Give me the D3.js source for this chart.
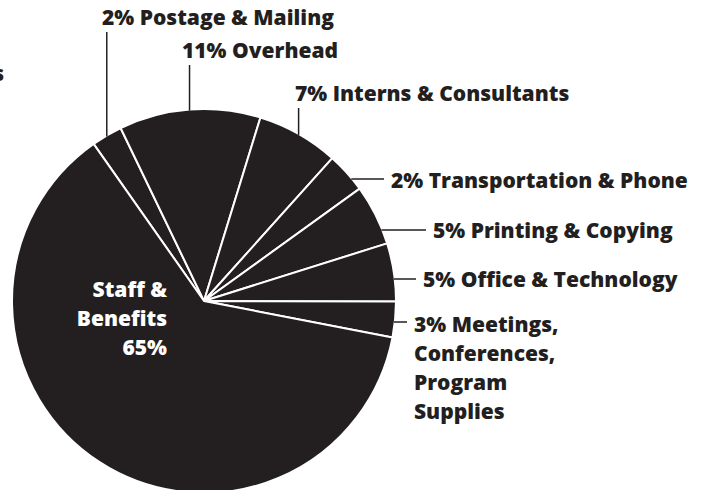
<!DOCTYPE html>
<meta charset="utf-8">
<style>

body {
  margin: 0;
  background: #fff;
}

text {
  font-family: "Open Sans", Lato, sans-serif;
  font-weight: 800;
  font-size: 21px;
}

</style>
<body>
<script src="https://d3js.org/d3.v7.js"></script>
<script>

// slices in drawing order, clockwise from the Postage slice
var categories = ["Postage & Mailing", "Overhead", "Interns & Consultants",
  "Transportation & Phone", "Printing & Copying", "Office & Technology",
  "Meetings, Conferences, Program Supplies", "Staff & Benefits"];

// percentages as printed on the labels
var printed = [2, 11, 7, 2, 5, 5, 3, 65];

// share of the circle each wedge actually takes in the picture (%)
var drawnShare = [2.6, 11.9, 6.9, 3.4, 5.1, 4.9, 3.0, 62.2];

// label lines as printed
var labelLines = [
  ["2% Postage & Mailing"],
  ["11% Overhead"],
  ["7% Interns & Consultants"],
  ["2% Transportation & Phone"],
  ["5% Printing & Copying"],
  ["5% Office & Technology"],
  ["3% Meetings,", "Conferences,", "Program", "Supplies"],
  ["Staff &", "Benefits", "65%"]
];

var width = 710,
    height = 490;

var cx = 204, cy = 301, radius = 192;
var ink = "#231f20";

// where each label sits (layout only)
var layout = [
  {kind: "v", x: 102, y: 25},
  {kind: "v", x: 182, y: 58},
  {kind: "v", x: 295, y: 101},
  {kind: "h", x: 391, y: 188, ly: 179},
  {kind: "h", x: 433, y: 238, ly: 230},
  {kind: "h", x: 423, y: 287, ly: 279},
  {kind: "h", x: 414, y: 332, ly: 322},
  {kind: "in", x: 167, y: 297}
];

var lineStep = 29;

var svg = d3.select("body").append("svg")
    .attr("width", width)
    .attr("height", height);

var g = svg.append("g")
    .attr("transform", `translate(${cx}, ${cy})`);

var pie = d3.pie()
    .sort(null)
    .value(d => d)
    .startAngle(-35.1 * Math.PI / 180)
    .endAngle((360 - 35.1) * Math.PI / 180);

var arcs = pie(drawnShare);

var arc = d3.arc()
    .innerRadius(0)
    .outerRadius(radius);

g.selectAll("path.slice")
  .data(arcs)
  .enter()
  .append("path")
    .attr("class", "slice")
    .attr("d", arc)
    .attr("fill", ink)
    .attr("stroke", "#fff")
    .attr("stroke-width", 2)
    .attr("stroke-linejoin", "round");

// leader lines
arcs.forEach(function(a, i) {
  var L = layout[i];
  var mid = (a.startAngle + a.endAngle) / 2;
  if (L.kind === "v") {
    var ex = radius * Math.sin(mid),
        ey = -radius * Math.cos(mid);
    g.append("line")
        .attr("x1", ex).attr("x2", ex)
        .attr("y1", ey + 1).attr("y2", L.y + 7 - cy)
        .attr("stroke", ink)
        .attr("stroke-width", 1.5);
  } else if (L.kind === "h") {
    var yy = L.ly - cy;
    var edgeX = Math.sqrt(radius * radius - yy * yy);
    g.append("line")
        .attr("x1", edgeX - 1).attr("x2", L.x - 7 - cx)
        .attr("y1", yy).attr("y2", yy)
        .attr("stroke", ink)
        .attr("stroke-width", 1.5);
  }
});

// labels
labelLines.forEach(function(lines, i) {
  var L = layout[i];
  var t = svg.append("text")
      .attr("x", L.x)
      .attr("y", L.y)
      .attr("fill", L.kind === "in" ? "#fff" : ink)
      .attr("text-anchor", L.kind === "in" ? "end" : "start");
  lines.forEach(function(s, j) {
    t.append("tspan")
        .attr("x", L.x)
        .attr("y", L.y + j * lineStep)
        .text(s);
  });
});

// fragment of a label cropped at the left edge in the original
svg.append("text")
    .attr("x", 4)
    .attr("y", 81)
    .attr("text-anchor", "end")
    .attr("fill", ink)
    .text("s");

</script>
